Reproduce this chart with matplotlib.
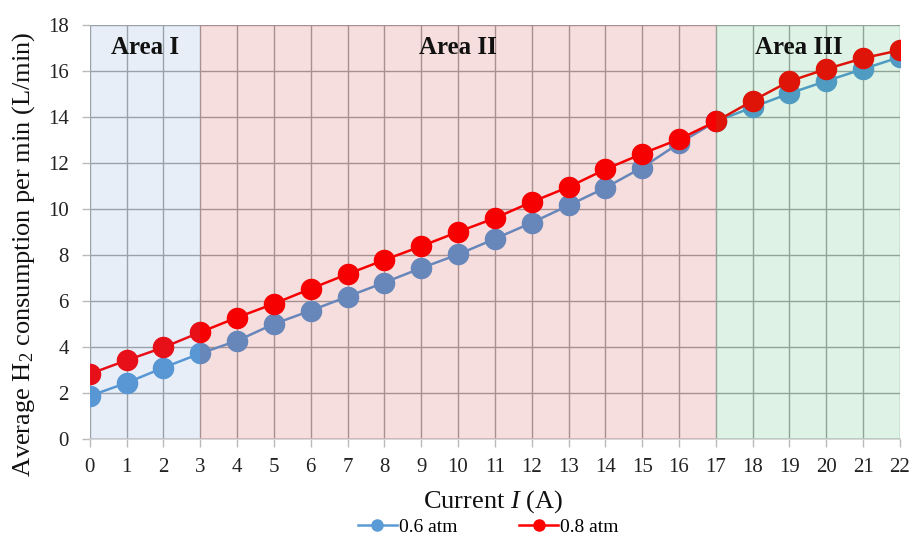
import numpy as np
import matplotlib.pyplot as plt
from matplotlib.lines import Line2D

plt.rcParams['font.family'] = ['Liberation Serif', 'DejaVu Serif']
plt.rcParams['mathtext.fontset'] = 'custom'
plt.rcParams['mathtext.rm'] = 'Liberation Serif'
plt.rcParams['mathtext.it'] = 'Liberation Serif:italic'

current = np.arange(0, 23)
h2_06 = [1.87, 2.44, 3.1, 3.72, 4.27, 5.0, 5.58, 6.19, 6.8, 7.43, 8.02,
         8.7, 9.4, 10.15, 10.92, 11.8, 12.85, 13.8, 14.42, 15.02, 15.56,
         16.08, 16.6]
h2_08 = [2.83, 3.42, 3.98, 4.64, 5.28, 5.88, 6.53, 7.17, 7.78, 8.38, 9.0,
         9.6, 10.3, 10.95, 11.72, 12.4, 13.03, 13.8, 14.7, 15.55, 16.08,
         16.55, 16.9]

# operating regions of the cell
area_bounds = [(0, 3), (3, 17), (17, 22)]
area_labels = ['Area I', 'Area II', 'Area III']
area_label_x = [1.5, 10, 19.25]
area_colors = [(70/255, 130/255, 200/255), (188/255, 0, 8/255), (0, 162/255, 62/255)]

blue = '#5B9BD5'
red = '#FF0000'

fig = plt.figure(figsize=(9.16, 5.4), dpi=100)
ax = fig.add_axes([0.098, 0.187, 0.8845, 0.767])

ax.plot(current, h2_06, color=blue, lw=1.8, marker='o', ms=14.5, zorder=3)
ax.plot(current, h2_08, color=red, lw=1.8, marker='o', ms=14.5, zorder=4)

# translucent region shading drawn over grid and series
for (x0, x1), c in zip(area_bounds, area_colors):
    ax.axvspan(x0, x1, color=c, alpha=0.13, lw=0, zorder=5)
for lab, lx in zip(area_labels, area_label_x):
    ax.text(lx, 17.0, lab, ha='center', va='center', fontsize=18,
            fontweight='bold', color='#111111', zorder=6)

ax.set_xlim(0, 22)
ax.set_ylim(0, 18)
ax.set_xticks(current)
ax.set_yticks(np.arange(0, 19, 2))
ax.grid(True, color='#A6A6A6', lw=1.0, zorder=1)
ax.set_axisbelow(True)
for side in ['top', 'right', 'left']:
    ax.spines[side].set_visible(False)
ax.spines['bottom'].set_color('#D0D0D0')
ax.spines['bottom'].set_linewidth(1.2)
ax.tick_params(axis='both', length=6, width=1.0, color='#BBBBBB',
               labelsize=15, labelcolor='#222222')
ax.tick_params(axis='x', pad=8)
ax.tick_params(axis='y', pad=9)

fig.text(493 / 916, 1 - 502 / 540, 'Current $\\mathit{I}$ (A)', fontsize=19,
         ha='center', va='center', color='#111111')
fig.text(24 / 916, 1 - 254 / 540, 'Average H$_2$ consumption per min (L/min)',
         fontsize=19, rotation=90, ha='center', va='center', color='#111111')

handles = [Line2D([], [], color=blue, lw=1.8, marker='o', ms=8),
           Line2D([], [], color=red, lw=1.8, marker='o', ms=8)]
fig.legend(handles, ['0.6 atm', '0.8 atm'], loc='center', ncol=2,
           bbox_to_anchor=(0.533, 0.024), frameon=False, fontsize=14,
           handlelength=2.0, handletextpad=0.1, columnspacing=3.2,
           borderpad=0.1)

fig.savefig('out.png', dpi=100)
